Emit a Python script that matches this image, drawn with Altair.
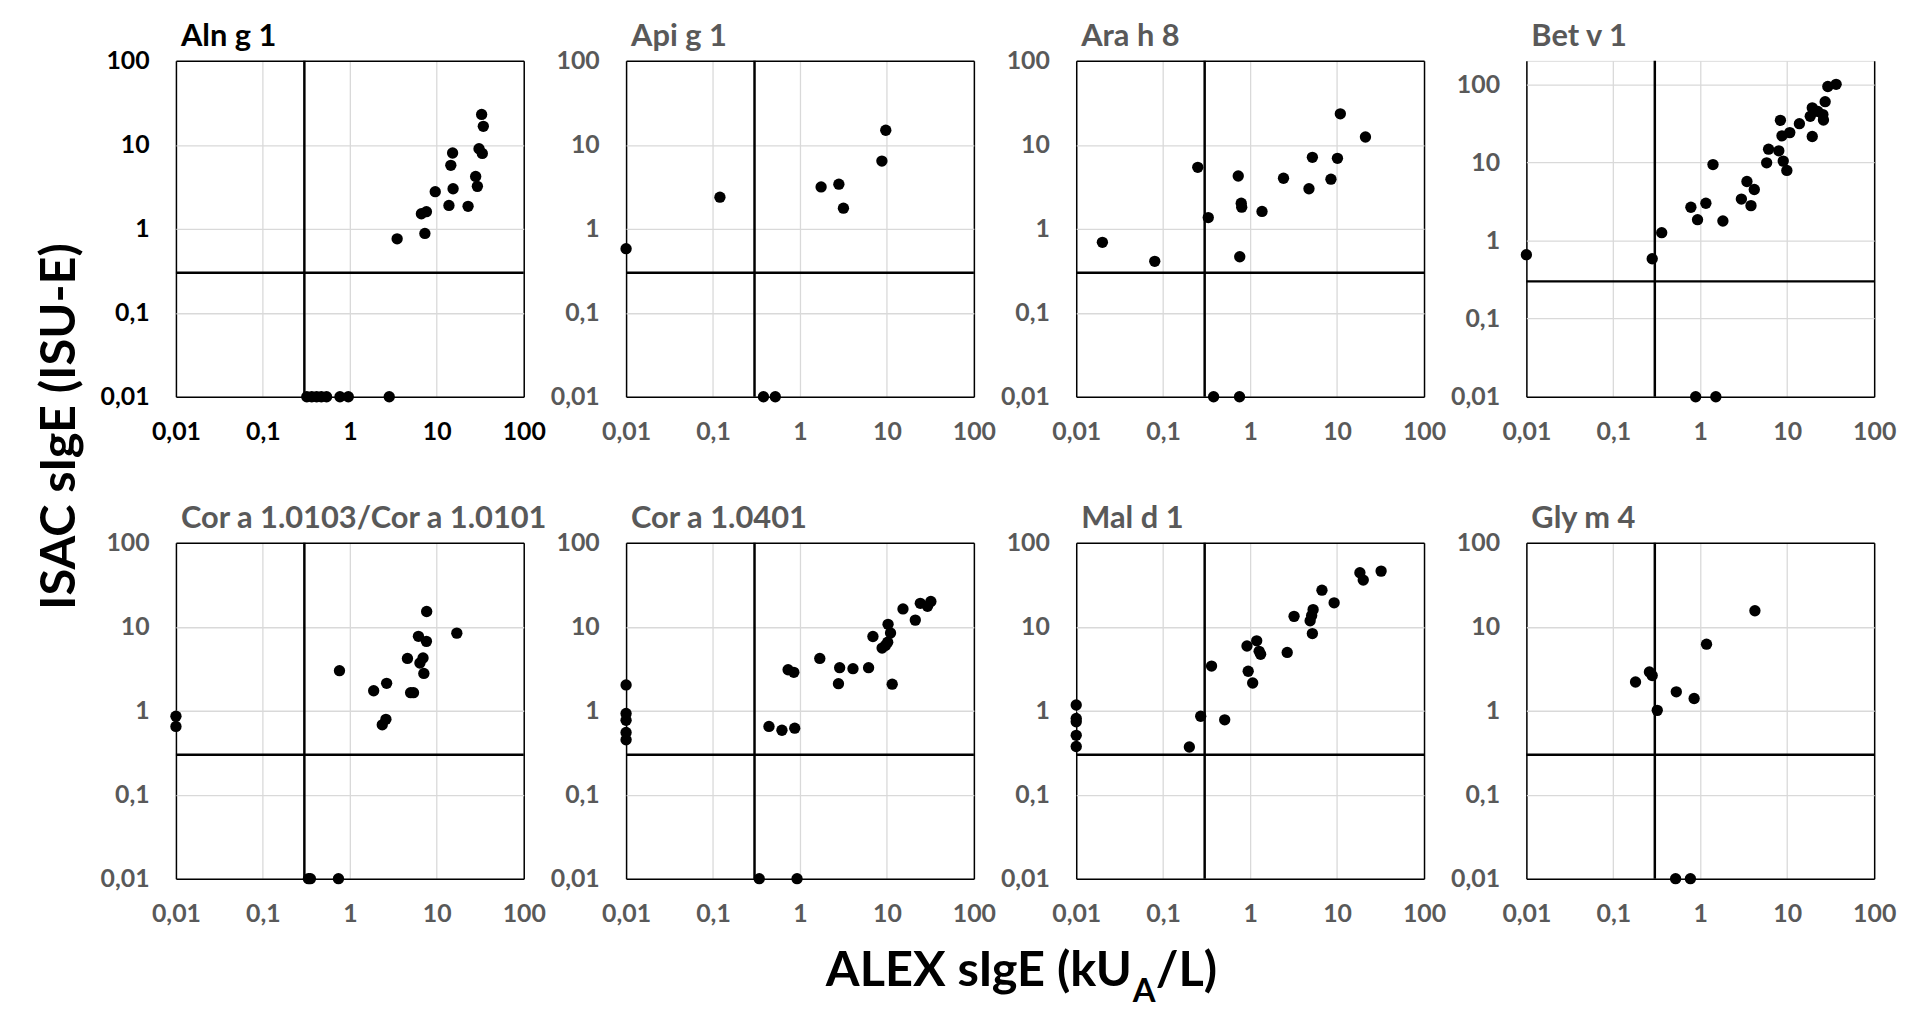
import altair as alt
import pandas as pd

FONT = "Lato"
DARK = "#000000"
GRAY = "#595959"
GRID = "#d9d9d9"

TICKS = [0.01, 0.1, 1, 10, 100]
THRESHOLD = [0.3]

titles = ["Aln g 1", "Api g 1", "Ara h 8", "Bet v 1",
          "Cor a 1.0103/Cor a 1.0101", "Cor a 1.0401", "Mal d 1", "Gly m 4"]

aln_x = [32.8, 34.3, 30.6, 33.4, 15.2, 14.5, 28.0, 29.3, 15.4, 9.6, 13.8, 22.9, 6.65, 7.6, 7.3, 3.5,
         0.32, 0.365, 0.415, 0.47, 0.54, 0.77, 0.96, 2.84]
aln_y = [23.0, 16.6, 9.0, 7.9, 8.0, 5.7, 4.2, 3.2, 3.0, 2.77, 1.9, 1.85, 1.51, 1.6, 0.88, 0.76,
         0.01, 0.01, 0.01, 0.01, 0.01, 0.01, 0.01, 0.01]

api_x = [9.7, 8.75, 2.8, 1.75, 3.16, 0.12, 0.01, 0.38, 0.52]
api_y = [14.9, 6.4, 3.4, 3.15, 1.76, 2.38, 0.58, 0.01, 0.01]

ara_x = [10.9, 21.2, 5.2, 10.1, 0.25, 0.73, 2.42, 8.5, 4.75, 0.79, 0.80, 1.37, 0.33, 0.020, 0.080, 0.76,
         0.38, 0.755]
ara_y = [23.4, 12.4, 7.1, 6.9, 5.4, 4.25, 4.0, 3.9, 3.0, 2.02, 1.81, 1.61, 1.36, 0.69, 0.41, 0.465,
         0.01, 0.01]

bet_x = [36.5, 29.3, 27.3, 19.4, 22.5, 25.7, 18.4, 26.1, 8.35, 13.8, 10.7, 8.7, 19.4, 6.1, 8.0, 5.8,
         9.0, 9.9, 1.40, 3.44, 4.18, 2.97, 3.83, 1.16, 0.78, 0.93, 1.82, 0.36, 0.28, 0.01, 0.885, 1.51]
bet_y = [100, 94, 60, 50, 45, 41, 39, 35, 34.6, 31.4, 24.1, 21.9, 21.5, 14.8, 14.1, 9.9,
         10.4, 7.9, 9.4, 5.7, 4.5, 3.4, 2.8, 3.0, 2.67, 1.85, 1.78, 1.26, 0.585, 0.66, 0.01, 0.01]

cor1_x = [7.65, 17.0, 6.15, 7.6, 4.6, 6.95, 6.4, 7.1, 0.76, 2.65, 1.88, 5.0, 5.4, 2.6, 2.36,
          0.01, 0.01, 0.334, 0.352, 0.74]
cor1_y = [15.2, 8.4, 7.7, 6.7, 4.2, 4.26, 3.7, 2.78, 3.0, 2.12, 1.73, 1.64, 1.64, 0.79, 0.68,
          0.86, 0.65, 0.01, 0.01, 0.01]

cor4_x = [32.0, 29.3, 24.2, 15.3, 21.2, 10.3, 11.0, 6.9, 10.2, 9.6, 8.8, 1.69, 2.86, 4.07, 6.15,
          0.73, 0.85, 2.77, 11.5, 0.44, 0.62, 0.87, 0.01, 0.01, 0.01, 0.01, 0.01, 0.34, 0.925]
cor4_y = [20.0, 17.5, 19.0, 16.3, 12.0, 10.7, 8.45, 7.65, 6.56, 5.98, 5.57, 4.2, 3.26, 3.17, 3.26,
          3.08, 2.87, 2.10, 2.07, 0.65, 0.585, 0.62, 2.03, 0.93, 0.77, 0.55, 0.45, 0.01, 0.01]

mal_x = [32.1, 18.3, 20.0, 6.7, 9.25, 5.3, 5.1, 3.2, 4.9, 5.2, 1.19, 0.92, 1.27, 1.32, 2.67, 0.36,
         0.95, 1.07, 0.27, 0.51, 0.20, 0.01, 0.01, 0.01, 0.01, 0.01]
mal_y = [46, 44, 36, 27.3, 19.3, 16.0, 13.6, 13.3, 11.8, 8.3, 6.8, 5.9, 5.1, 4.7, 4.95, 3.4,
         2.95, 2.14, 0.86, 0.78, 0.37, 1.17, 0.81, 0.74, 0.51, 0.375]

gly_x = [4.25, 1.18, 0.26, 0.28, 0.18, 0.53, 0.85, 0.32, 0.52, 0.77]
gly_y = [15.5, 6.2, 2.9, 2.62, 2.2, 1.68, 1.40, 1.01, 0.01, 0.01]

xs_all = [aln_x, api_x, ara_x, bet_x, cor1_x, cor4_x, mal_x, gly_x]
ys_all = [aln_y, api_y, ara_y, bet_y, cor1_y, cor4_y, mal_y, gly_y]
ymax_all = [100, 100, 100, 200, 100, 100, 100, 100]

LABEL_EXPR = "replace(format(datum.value, '~g'), '.', ',')"
W, H = 350, 338


def make_axis(col, orient, edge_test):
    common = dict(
        values=TICKS, labelExpr=LABEL_EXPR, title=None, grid=True,
        gridColor={"condition": {"test": edge_test, "value": "black"}, "value": GRID},
        gridWidth={"condition": {"test": edge_test, "value": 1.5}, "value": 1.3},
        ticks=False, tickSize=0, domain=False,
        labelFont=FONT, labelFontSize=25, labelFontWeight="bold", labelColor=col,
        labelFlush=False, labelOverlap=False,
    )
    if orient == "x":
        return alt.Axis(labelPadding=23, **common)
    return alt.Axis(labelPadding=27, **common)


charts = []
for i, name in enumerate(titles):
    col = DARK if i == 0 else GRAY
    df = pd.DataFrame({"x": xs_all[i], "y": ys_all[i]})
    thr = pd.DataFrame({"v": THRESHOLD})
    xscale = alt.Scale(type="log", domain=[0.01, 100], nice=False)
    yscale = alt.Scale(type="log", domain=[0.01, ymax_all[i]], nice=False)
    y_edge = "datum.value <= 0.01" if ymax_all[i] != 100 else "datum.value <= 0.01 || datum.value >= 100"
    xaxis = make_axis(col, "x", "datum.value <= 0.01 || datum.value >= 100")
    yaxis = make_axis(col, "y", y_edge)

    pts = alt.Chart(df).mark_circle(size=130, color="black", opacity=1, clip=False).encode(
        x=alt.X("x:Q", scale=xscale, axis=xaxis),
        y=alt.Y("y:Q", scale=yscale, axis=yaxis),
    )
    vrule = alt.Chart(thr).mark_rule(color="black", strokeWidth=2.5).encode(
        x=alt.X("v:Q", scale=xscale, axis=xaxis)
    )
    hrule = alt.Chart(thr).mark_rule(color="black", strokeWidth=2.5).encode(
        y=alt.Y("v:Q", scale=yscale, axis=yaxis)
    )
    one = pd.DataFrame({"k": [0]})
    ptitle = alt.Chart(one).mark_text(
        text=name, align="left", baseline="alphabetic",
        font=FONT, fontSize=31, fontWeight="bold", color=col,
    ).encode(x=alt.value(5), y=alt.value(-15))
    layers = [vrule, hrule, pts, ptitle]

    if i == 0:
        ytitle = alt.Chart(one).mark_text(
            text="ISAC sIgE (ISU-E)", angle=270, align="center", baseline="middle",
            font=FONT, fontSize=49, fontWeight="bold", color="black",
        ).encode(x=alt.value(-117), y=alt.value(368))
        layers.append(ytitle)
    if i == 5:
        t1 = alt.Chart(one).mark_text(
            text="ALEX sIgE (kU", align="right", baseline="alphabetic",
            font=FONT, fontSize=49, fontWeight="bold", color="black",
        ).encode(x=alt.value(509), y=alt.value(446))
        t2 = alt.Chart(one).mark_text(
            text="A", align="left", baseline="alphabetic",
            font=FONT, fontSize=33, fontWeight="bold", color="black",
        ).encode(x=alt.value(510), y=alt.value(462))
        t3 = alt.Chart(one).mark_text(
            text="/L)", align="left", baseline="alphabetic",
            font=FONT, fontSize=49, fontWeight="bold", color="black",
        ).encode(x=alt.value(533), y=alt.value(446))
        layers += [t1, t2, t3]

    panel = alt.layer(*layers).properties(width=W, height=H)
    charts.append(panel)

chart = alt.concat(
    *charts, columns=4, spacing={"row": 147, "column": 103}, bounds="flush"
).properties(
    padding={"left": 27, "top": 9, "right": 5, "bottom": 2}
).configure_view(
    stroke="black", strokeWidth=1.5
).configure(background="white")

chart.save("out.html", embed_options={"renderer": "svg", "actions": False})
